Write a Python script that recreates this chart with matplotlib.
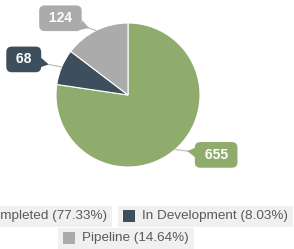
import matplotlib
matplotlib.use("Agg")
import matplotlib.pyplot as plt
import numpy as np
from matplotlib.patches import Rectangle, Polygon

plt.rcParams["font.family"] = ["Liberation Sans", "DejaVu Sans"]

categories = ["Completed", "In Development", "Pipeline"]
values = [655, 68, 124]
colors = ["#8fac6d", "#3d4f5c", "#ababab"]

# label placement tweaks (angle shift in degrees, distance in radii)
label_shift = [15, 4, 15]
label_dist = [1.48, 1.53, 1.42]

W, H = 294, 249
fig = plt.figure(figsize=(W / 100, H / 100), dpi=100)


def px(x, y):
    # pixels from top-left -> figure fraction
    return x / W, 1 - y / H


# pie: centre (128, 95) px, radius 72 px
cx, cy, R = 128, 95, 72
ax = fig.add_axes([(cx - R) / W, 1 - (cy + R) / H, 2 * R / W, 2 * R / H])
wedges, _ = ax.pie(values, colors=colors, startangle=90, counterclock=False,
                   radius=1, wedgeprops=dict(edgecolor="white", linewidth=0.8))
ax.set_xlim(-1, 1)
ax.set_ylim(-1, 1)

for w, val, col, shift, dist in zip(wedges, values, colors, label_shift, label_dist):
    theta = np.deg2rad((w.theta1 + w.theta2) / 2)
    edge = np.array([np.cos(theta), np.sin(theta)])
    lab = dist * np.array([np.cos(theta + np.deg2rad(shift)), np.sin(theta + np.deg2rad(shift))])

    ax.annotate("", xy=edge, xytext=lab, annotation_clip=False,
                arrowprops=dict(arrowstyle="-", color="#b8b8b8", lw=0.8,
                                shrinkA=0, shrinkB=0))

    # small pointer on the label box
    u = (edge - lab) / np.linalg.norm(edge - lab)
    hw = (0.15 + 0.054 * len(str(val)))
    hh = 0.185
    k0 = min(hw / max(abs(u[0]), 1e-6), hh / max(abs(u[1]), 1e-6))
    perp = np.array([-u[1], u[0]])
    base = lab + u * (k0 - 0.03)
    tip = lab + u * (k0 + 0.09)
    ax.add_patch(Polygon([base + perp * 0.07, base - perp * 0.07, tip],
                         closed=True, fc=col, ec="none", clip_on=False, zorder=4))

    ax.annotate(f" {val} ", xy=lab, ha="center", va="center", color="white",
                fontsize=10, fontweight="bold", annotation_clip=False, zorder=5,
                bbox=dict(boxstyle="round,pad=0.42,rounding_size=0.4",
                          fc=col, ec="none"))

# legend, one grey box per item
legend_rows = [[0, 1], [2]]
row_centers = [216, 238]
total = sum(values)
renderer = fig.canvas.get_renderer()
for row, yc in zip(legend_rows, row_centers):
    items = []
    for i in row:
        pct = values[i] / total * 100
        t = fig.text(0, 0, f"{categories[i]} ({pct:.2f}%)", fontsize=9.7,
                     color="#5a5a5a", va="center", ha="left")
        tw = t.get_window_extent(renderer).width
        items.append((i, t, tw + 5 + 12 + 7 + 5))
    row_w = sum(it[2] for it in items) + 6 * (len(items) - 1)
    x = 126 - row_w / 2
    for i, t, iw in items:
        fig.add_artist(Rectangle(px(x, yc + 10.5), iw / W, 21 / H,
                                 transform=fig.transFigure, fc="#f0f0f0", ec="none"))
        fig.add_artist(Rectangle(px(x + 5, yc + 6), 12 / W, 12 / H,
                                 transform=fig.transFigure, fc=colors[i], ec="none"))
        t.set_position(px(x + 24, yc))
        x += iw + 6

fig.savefig("out.png", dpi=100)
